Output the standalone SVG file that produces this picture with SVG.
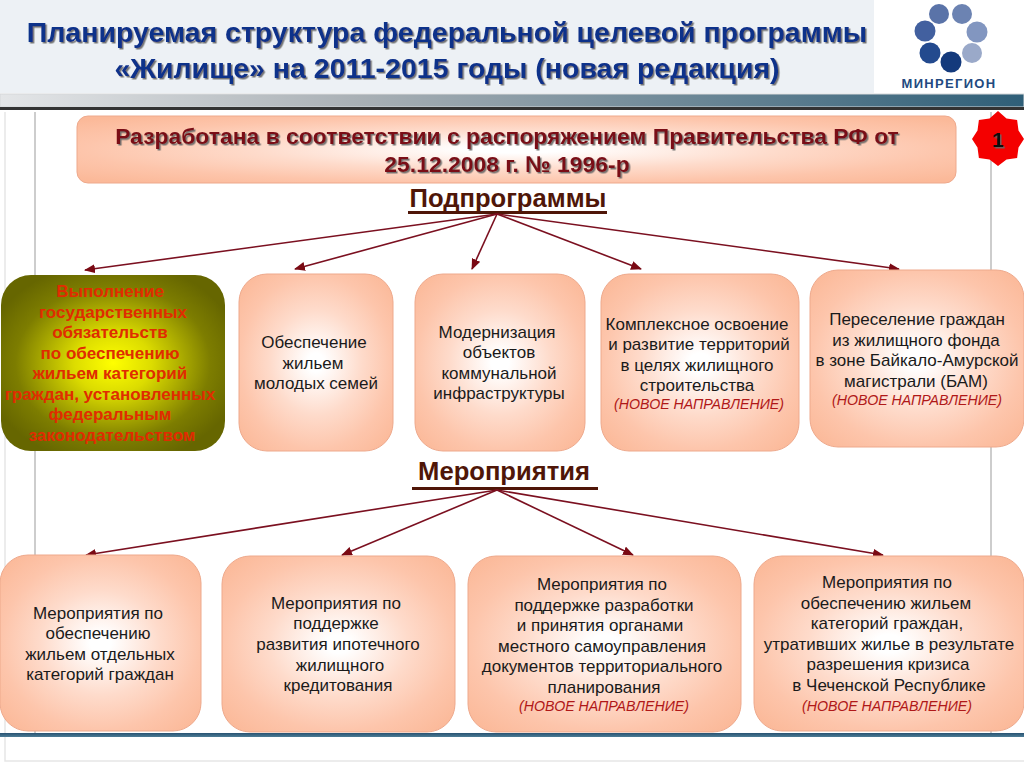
<svg xmlns="http://www.w3.org/2000/svg" width="1024" height="768" viewBox="0 0 1024 768">
<defs>
<radialGradient id="peach" cx="50%" cy="50%" r="66%"><stop offset="0.08" stop-color="#ffffff"/><stop offset="0.45" stop-color="#fedbcb"/><stop offset="0.75" stop-color="#fdc5ab"/><stop offset="1" stop-color="#fbb999"/></radialGradient>
<radialGradient id="olive" cx="50%" cy="50%" r="58%"><stop offset="0" stop-color="#ffff00"/><stop offset="0.3" stop-color="#dcdc00"/><stop offset="0.75" stop-color="#7d7d00"/><stop offset="1" stop-color="#666600"/></radialGradient>
<linearGradient id="bar" x1="0" x2="1" y1="0" y2="0"><stop offset="0" stop-color="#e4e6e8"/><stop offset="0.35" stop-color="#a9b0b5"/><stop offset="1" stop-color="#2f5f78"/></linearGradient>
<linearGradient id="barBottom" x1="0" x2="0" y1="0" y2="1"><stop offset="0" stop-color="#275272"/><stop offset="1" stop-color="#4d7d96"/></linearGradient>
<marker id="ah" markerWidth="11" markerHeight="9" refX="10" refY="4.5" orient="auto" markerUnits="userSpaceOnUse"><path d="M0,0 L11,4.5 L0,9 Z" fill="#7a0a14"/></marker>
<filter id="sh" x="-5%" y="-10%" width="110%" height="130%"><feDropShadow dx="1.5" dy="1.5" stdDeviation="0.6" flood-color="#666" flood-opacity="0.9"/></filter>
</defs>
<style>
text{font-family:"Liberation Sans",Arial,sans-serif;text-anchor:middle}
.box{fill:url(#peach);stroke:#eea98c;stroke-width:1}
.t{font-size:17px;fill:#1a1a1a}
.n{font-size:14.2px;font-style:italic;fill:#b01818}
.o{font-size:17px;font-weight:bold;fill:#e02c00}
.title{font-size:28.5px;font-weight:bold;fill:#10308a;filter:url(#sh)}
.sub{font-size:22.9px;font-weight:bold;fill:#7a0f18;filter:url(#sh)}
.head{font-size:25.6px;font-weight:bold;fill:#4f1608}
.c line{stroke:#7b1020;stroke-width:1.6;marker-end:url(#ah)}
.dot{stroke:none}
</style>
<rect width="1024" height="768" fill="#fff"/>
<g id="frame" fill="none">
<path d="M5,112 V761 H1024" stroke="#e6e6e6" stroke-width="1.5"/>
<path d="M35,112 V733 M991,112 V733" stroke="#bdbdbd" stroke-width="1.5"/>
</g>
<g id="header">
<rect width="874" height="93" fill="#edf1f5"/>
<text class="title" x="447" y="42">Планируемая структура федеральной целевой программы</text>
<text class="title" x="447" y="78">«Жилище» на 2011-2015 годы (новая редакция)</text>
</g>
<g id="logo">
<circle class="dot" cx="939" cy="14" r="10" fill="#5a73a8"/><circle class="dot" cx="962" cy="14" r="10" fill="#6c83b2"/>
<circle class="dot" cx="925" cy="31" r="10.5" fill="#42609f"/><circle class="dot" cx="977" cy="32" r="10.5" fill="#8296c0"/>
<circle class="dot" cx="930" cy="53" r="10.5" fill="#234a8e"/><circle class="dot" cx="972" cy="53" r="10" fill="#9aa9c9"/>
<circle class="dot" cx="951" cy="62" r="10.5" fill="#143a7c"/>
<text x="949" y="88" font-size="13" font-weight="bold" fill="#234a80" letter-spacing="1.3">МИНРЕГИОН</text>
</g>
<g id="topbar">
<rect x="0" y="94" width="1024" height="13" fill="url(#bar)" stroke="#d5d8da" stroke-width="1"/>
<rect x="0" y="107" width="1024" height="3" fill="#333"/>
</g>
<g id="banner">
<rect x="77" y="116" width="879" height="67" rx="11" fill="url(#peach)" stroke="#eea98c"/>
<text class="sub" x="507" y="144">Разработана в соответствии с распоряжением Правительства РФ от</text>
<text class="sub" x="507" y="172">25.12.2008 г. № 1996-р</text>
</g>
<g id="badge">
<polygon points="998,111 1006.500,118.500 1017.100,119.900 1018.500,130.500 1024,139 1018.500,147.500 1017.100,158.100 1006.500,159.500 998,166 989.500,159.500 978.900,158.100 977.500,147.500 972,139 977.500,130.500 978.900,119.900 989.500,118.500" fill="#f40000"/>
<text x="998" y="147" font-size="21" font-weight="bold" fill="#111" filter="url(#sh)">1</text>
</g>
<g id="h1"><text class="head" x="508" y="207">Подпрограммы</text><rect x="408" y="211" width="199" height="3" fill="#4f1608"/></g>
<g id="h2"><text class="head" x="504" y="480">Мероприятия</text><rect x="412" y="487" width="186" height="3" fill="#4f1608"/></g>
<g id="connectors" class="c">
<line x1="497" y1="214" x2="85" y2="270"/><line x1="497" y1="214" x2="295" y2="269"/><line x1="497" y1="214" x2="472" y2="269"/><line x1="497" y1="214" x2="641" y2="269"/><line x1="497" y1="214" x2="899" y2="269"/>
<line x1="497" y1="490" x2="86" y2="555"/><line x1="497" y1="490" x2="342" y2="555"/><line x1="497" y1="490" x2="633" y2="555"/><line x1="497" y1="490" x2="883" y2="555"/>
</g>
<g id="n1"><rect x="1" y="275" width="224" height="176" rx="30" fill="url(#olive)"/>
<text class="o" x="110" y="297">Выполнение</text><text class="o" x="113" y="318">государственных</text><text class="o" x="110" y="338">обязательств</text><text class="o" x="110" y="359">по обеспечению</text><text class="o" x="110" y="379">жильем категорий</text><text class="o" x="110" y="400">граждан, установленных</text><text class="o" x="110" y="420">федеральным</text><text class="o" x="112" y="441">законодательством</text></g>
<g id="n2"><rect class="box" x="239" y="274" width="154" height="177" rx="28"/><text class="t" x="314" y="348">Обеспечение</text><text class="t" x="313" y="369">жильем</text><text class="t" x="316" y="389">молодых семей</text></g>
<g id="n3"><rect class="box" x="415" y="274" width="170" height="177" rx="28"/><text class="t" x="497" y="338">Модернизация</text><text class="t" x="499" y="358">объектов</text><text class="t" x="499" y="379">коммунальной</text><text class="t" x="499" y="399">инфраструктуры</text></g>
<g id="n4"><rect class="box" x="601" y="274" width="198" height="177" rx="28"/><text class="t" x="697" y="330">Комплексное освоение</text><text class="t" x="699" y="350">и развитие территорий</text><text class="t" x="697" y="371">в целях жилищного</text><text class="t" x="697" y="391">строительства</text><text class="n" x="699" y="409">(НОВОЕ НАПРАВЛЕНИЕ)</text></g>
<g id="n5"><rect class="box" x="810" y="270" width="214" height="177" rx="28"/><text class="t" x="917" y="325">Переселение граждан</text><text class="t" x="916" y="346">из жилищного фонда</text><text class="t" x="917" y="366">в зоне Байкало-Амурской</text><text class="t" x="916" y="387">магистрали (БАМ)</text><text class="n" x="917" y="405">(НОВОЕ НАПРАВЛЕНИЕ)</text></g>
<g id="m1"><rect class="box" x="0" y="555" width="201" height="176" rx="28"/><text class="t" x="98" y="619">Мероприятия по</text><text class="t" x="98" y="639">обеспечению</text><text class="t" x="100" y="660">жильем отдельных</text><text class="t" x="100" y="680">категорий граждан</text></g>
<g id="m2"><rect class="box" x="222" y="556" width="233" height="176" rx="28"/><text class="t" x="336" y="609">Мероприятия по</text><text class="t" x="336" y="629">поддержке</text><text class="t" x="338" y="650">развития ипотечного</text><text class="t" x="340" y="671">жилищного</text><text class="t" x="338" y="691">кредитования</text></g>
<g id="m3"><rect class="box" x="468" y="556" width="273" height="176" rx="28"/><text class="t" x="602" y="590">Мероприятия по</text><text class="t" x="604" y="611">поддержке разработки</text><text class="t" x="600" y="631">и принятия органами</text><text class="t" x="602" y="652">местного самоуправления</text><text class="t" x="602" y="672">документов территориального</text><text class="t" x="604" y="693">планирования</text><text class="n" x="604" y="711">(НОВОЕ НАПРАВЛЕНИЕ)</text></g>
<g id="m4"><rect class="box" x="754" y="556" width="270" height="175" rx="28"/><text class="t" x="887" y="588">Мероприятия по</text><text class="t" x="886" y="609">обеспечению жильем</text><text class="t" x="887" y="629">категорий граждан,</text><text class="t" x="889" y="650">утративших жилье в результате</text><text class="t" x="888" y="670">разрешения кризиса</text><text class="t" x="889" y="691">в Чеченской Республике</text><text class="n" x="887" y="711">(НОВОЕ НАПРАВЛЕНИЕ)</text></g>
<rect id="bottombar" x="0" y="733" width="1024" height="4" fill="url(#barBottom)"/>
</svg>
